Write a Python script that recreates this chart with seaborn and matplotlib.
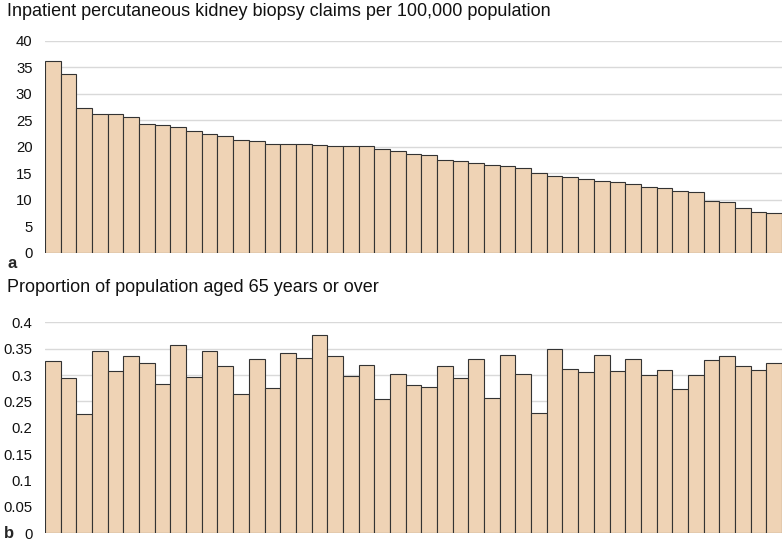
import numpy as np
import pandas as pd
import matplotlib
matplotlib.use('Agg')
import matplotlib.pyplot as plt
import seaborn as sns

# ── Data (47 regions, sorted by biopsy rate) ────────────────────────────────
biopsy_rate = [36.2, 33.8, 27.3, 26.2, 26.2, 25.6, 24.3, 24.1, 23.8, 23.1,
               22.4, 22.1, 21.4, 21.1, 20.6, 20.6, 20.6, 20.4, 20.2, 20.1,
               20.1, 19.6, 19.2, 18.7, 18.5, 17.5, 17.3, 16.9, 16.6, 16.4,
               16.0, 15.0, 14.5, 14.3, 14.0, 13.6, 13.3, 13.0, 12.5, 12.3,
               11.7, 11.5, 9.8, 9.6, 8.5, 7.8, 7.5]
aged_65_share = [0.326, 0.294, 0.226, 0.346, 0.308, 0.336, 0.322, 0.284, 0.358, 0.296,
                 0.346, 0.318, 0.265, 0.330, 0.276, 0.341, 0.332, 0.376, 0.336, 0.298,
                 0.320, 0.255, 0.303, 0.282, 0.277, 0.317, 0.294, 0.330, 0.257, 0.339,
                 0.303, 0.229, 0.349, 0.312, 0.305, 0.339, 0.307, 0.331, 0.301, 0.309,
                 0.273, 0.300, 0.329, 0.336, 0.318, 0.309, 0.322]
region = [f"R{i+1}" for i in range(len(biopsy_rate))]

df = pd.DataFrame({"region": region, "biopsy": biopsy_rate, "aged": aged_65_share})

BAR = "#EFD3B5"
EDGE = "#333333"
GRID = "#D9D9D9"

sns.set_theme(style="white")
plt.rcParams["font.family"] = ["Liberation Sans", "DejaVu Sans"]

fig = plt.figure(figsize=(7.82, 5.45), dpi=100)
ax1 = fig.add_axes([0.0575, 0.5358, 0.9425, 0.389])
ax2 = fig.add_axes([0.0575, 0.0215, 0.9425, 0.387])

def style(ax, ticks, labels):
    ax.set_yticks(ticks)
    ax.set_yticklabels(labels)
    ax.set_ylim(ticks[0], ticks[-1])
    ax.set_xlim(-0.5, len(region) - 0.5)
    ax.set_xticks([])
    ax.set_xlabel(""); ax.set_ylabel("")
    ax.yaxis.grid(True, color=GRID, lw=1)
    ax.set_axisbelow(True)
    for s in ax.spines.values():
        s.set_visible(False)
    ax.tick_params(axis="y", length=0, pad=9, labelsize=10.7, labelcolor="#111111")

sns.barplot(data=df, x="region", y="biopsy", color=BAR, saturation=1,
            width=1.0, edgecolor=EDGE, linewidth=0.8, ax=ax1)
style(ax1, [0, 5, 10, 15, 20, 25, 30, 35, 40],
      ["0", "5", "10", "15", "20", "25", "30", "35", "40"])

sns.barplot(data=df, x="region", y="aged", color=BAR, saturation=1,
            width=1.0, edgecolor=EDGE, linewidth=0.8, ax=ax2)
style(ax2, [0, 0.05, 0.1, 0.15, 0.2, 0.25, 0.3, 0.35, 0.4],
      ["0", "0.05", "0.1", "0.15", "0.2", "0.25", "0.3", "0.35", "0.4"])

fig.text(7/782, 1 - 12/545, "Inpatient percutaneous kidney biopsy claims per 100,000 population",
         fontsize=13, va="center", ha="left", color="#111111")
fig.text(7/782, 1 - 287/545, "Proportion of population aged 65 years or over",
         fontsize=13, va="center", ha="left", color="#111111")
fig.text(7/782, 1 - 263/545, "a", fontsize=12, fontweight="bold", va="center", ha="left")
fig.text(4/782, 1 - 533/545, "b", fontsize=12, fontweight="bold", va="center", ha="left")

fig.savefig("out.png", dpi=100)
